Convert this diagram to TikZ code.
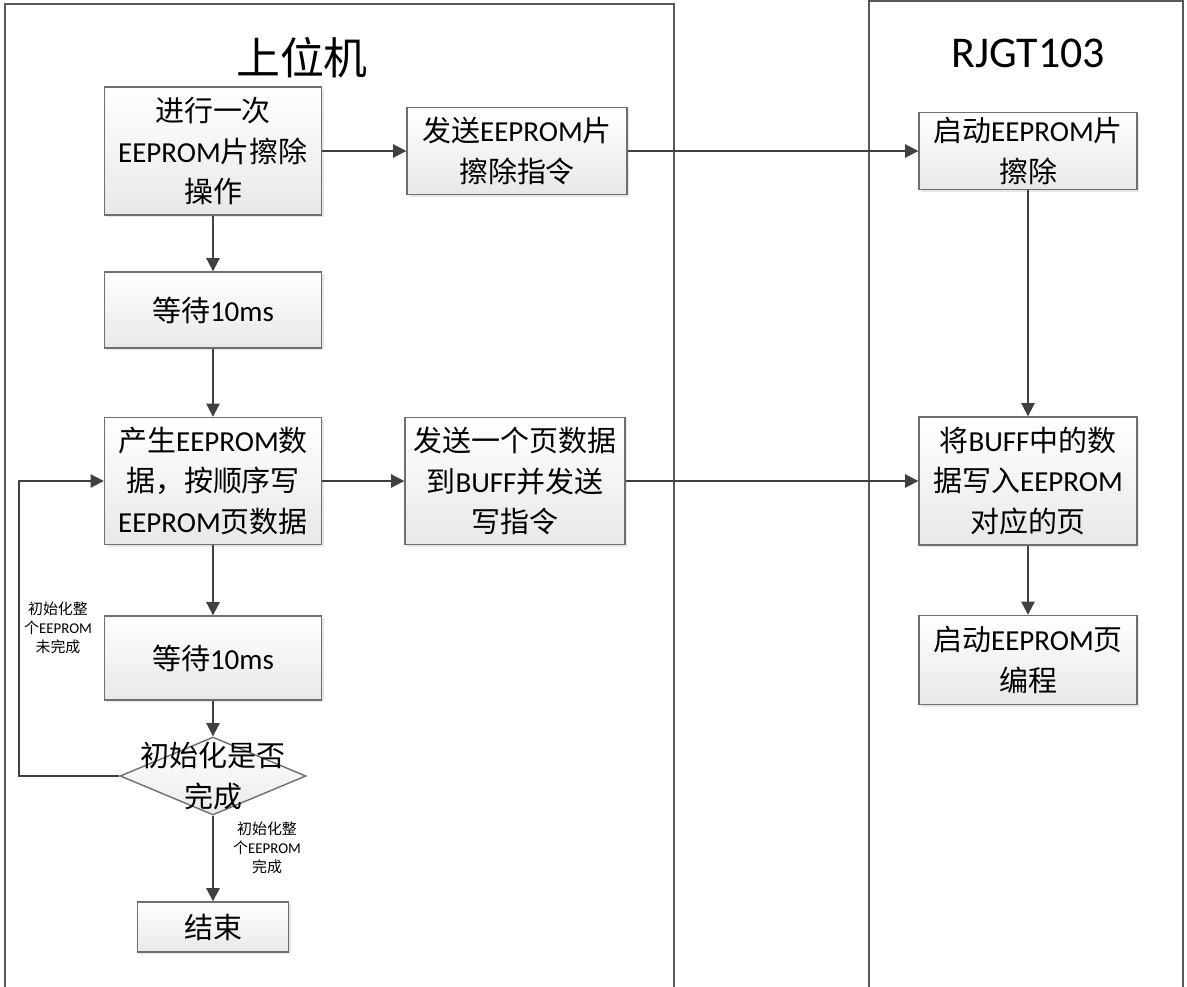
\documentclass[tikz,border=0pt]{standalone}
\usepackage{fontspec}
\setmainfont{Carlito}
\newfontfamily\cjk{Noto Sans CJK SC}
\newcommand{\zh}[1]{{\cjk #1}}
\usepackage{tikz}
\usetikzlibrary{arrows.meta}
\usetikzlibrary{shapes.geometric}
\usetikzlibrary{shadows}
\definecolor{linegray}{HTML}{404040}
\definecolor{boxgray}{HTML}{6F6F6F}
\tikzset{proc/.style={draw=boxgray, line width=0.8pt, rectangle, align=center,
   inner sep=2pt, top color=white, bottom color=black!9,
   drop shadow={shadow xshift=1.2pt, shadow yshift=-1.2pt, opacity=.2},
   font=\fontsize{16.5}{23.3}\selectfont},
 decision/.style={draw=boxgray, line width=0.8pt, diamond, inner sep=0pt,
   top color=white, bottom color=black!8},
 flow/.style={draw=linegray, line width=1.1pt, -{Triangle[length=7.5pt,width=7.5pt]}},
 lane/.style={draw=black!65, line width=0.6pt},
 note/.style={align=center, font=\fontsize{8.5}{11}\selectfont},
 }

\begin{document}
\begin{tikzpicture}[x=0.02cm, y=-0.02cm]
    \useasboundingbox (0,0) rectangle (1187,987);
    % swim lanes
    \draw[lane] (5,990) -- (5,4) -- (674,4) -- (674,990);
    \draw[lane] (869,990) -- (869,1) -- (1183,1) -- (1183,990);
    \node[font=\fontsize{25}{30}\selectfont] (host) at (302,58) {\zh{上位机}};
    \node[font=\fontsize{25}{30}\selectfont] (chip) at (1028,53) {RJGT103};

    % host side
    \node[proc, minimum width=4.34cm, minimum height=2.56cm] (A) at (213,151)
        {\zh{进行一次}\\EEPROM\zh{片擦除}\\\zh{操作}};
    \node[proc, minimum width=4.4cm, minimum height=1.74cm] (B) at (517,151)
        {\zh{发送}EEPROM\zh{片}\\\zh{擦除指令}};
    \node[proc, minimum width=4.34cm, minimum height=1.52cm] (D) at (213,310)
        {\zh{等待}10ms};
    \node[proc, minimum width=4.34cm, minimum height=2.54cm] (E) at (213,481)
        {\zh{产生}EEPROM\zh{数}\\\zh{据，按顺序写}\\EEPROM\zh{页数据}};
    \node[proc, minimum width=4.4cm, minimum height=2.54cm] (F) at (515,481)
        {\zh{发送一个页数据}\\\zh{到}BUFF\zh{并发送}\\\zh{写指令}};
    \node[proc, minimum width=4.34cm, minimum height=1.68cm] (I) at (213,658)
        {\zh{等待}10ms};
    \node[decision, minimum width=3.72cm, minimum height=1.56cm,
        label={[font=\fontsize{16.5}{23.3}\selectfont, align=center]center:\zh{初始化是否}\\\zh{完成}}] (dec) at (213,776) {};
    \node[proc, minimum width=3.02cm, minimum height=1cm] (J) at (213,927)
        {\zh{结束}};

    % chip side
    \node[proc, minimum width=4.36cm, minimum height=1.54cm] (C) at (1028,151)
        {\zh{启动}EEPROM\zh{片}\\\zh{擦除}};
    \node[proc, minimum width=4.36cm, minimum height=2.56cm] (G) at (1028,481)
        {\zh{将}BUFF\zh{中的数}\\\zh{据写入}EEPROM\\\zh{对应的页}};
    \node[proc, minimum width=4.36cm, minimum height=1.78cm] (H) at (1028,660)
        {\zh{启动}EEPROM\zh{页}\\\zh{编程}};

    % connectors
    \foreach \a/\b in {A/B, B/C, A/D, D/E, E/F, F/G, C/G, G/H, E/I, I/dec, dec/J}
        \draw[flow] (\a) -- (\b);
    \draw[flow] (dec.west) -- ++(-100,0) |- (E.west);
    \node[note] (notdone) at (58,628) {\zh{初始化整}\\\zh{个}EEPROM\\\zh{未完成}};
    \node[note] (done) at (267,848) {\zh{初始化整}\\\zh{个}EEPROM\\\zh{完成}};
\end{tikzpicture}
\end{document}
